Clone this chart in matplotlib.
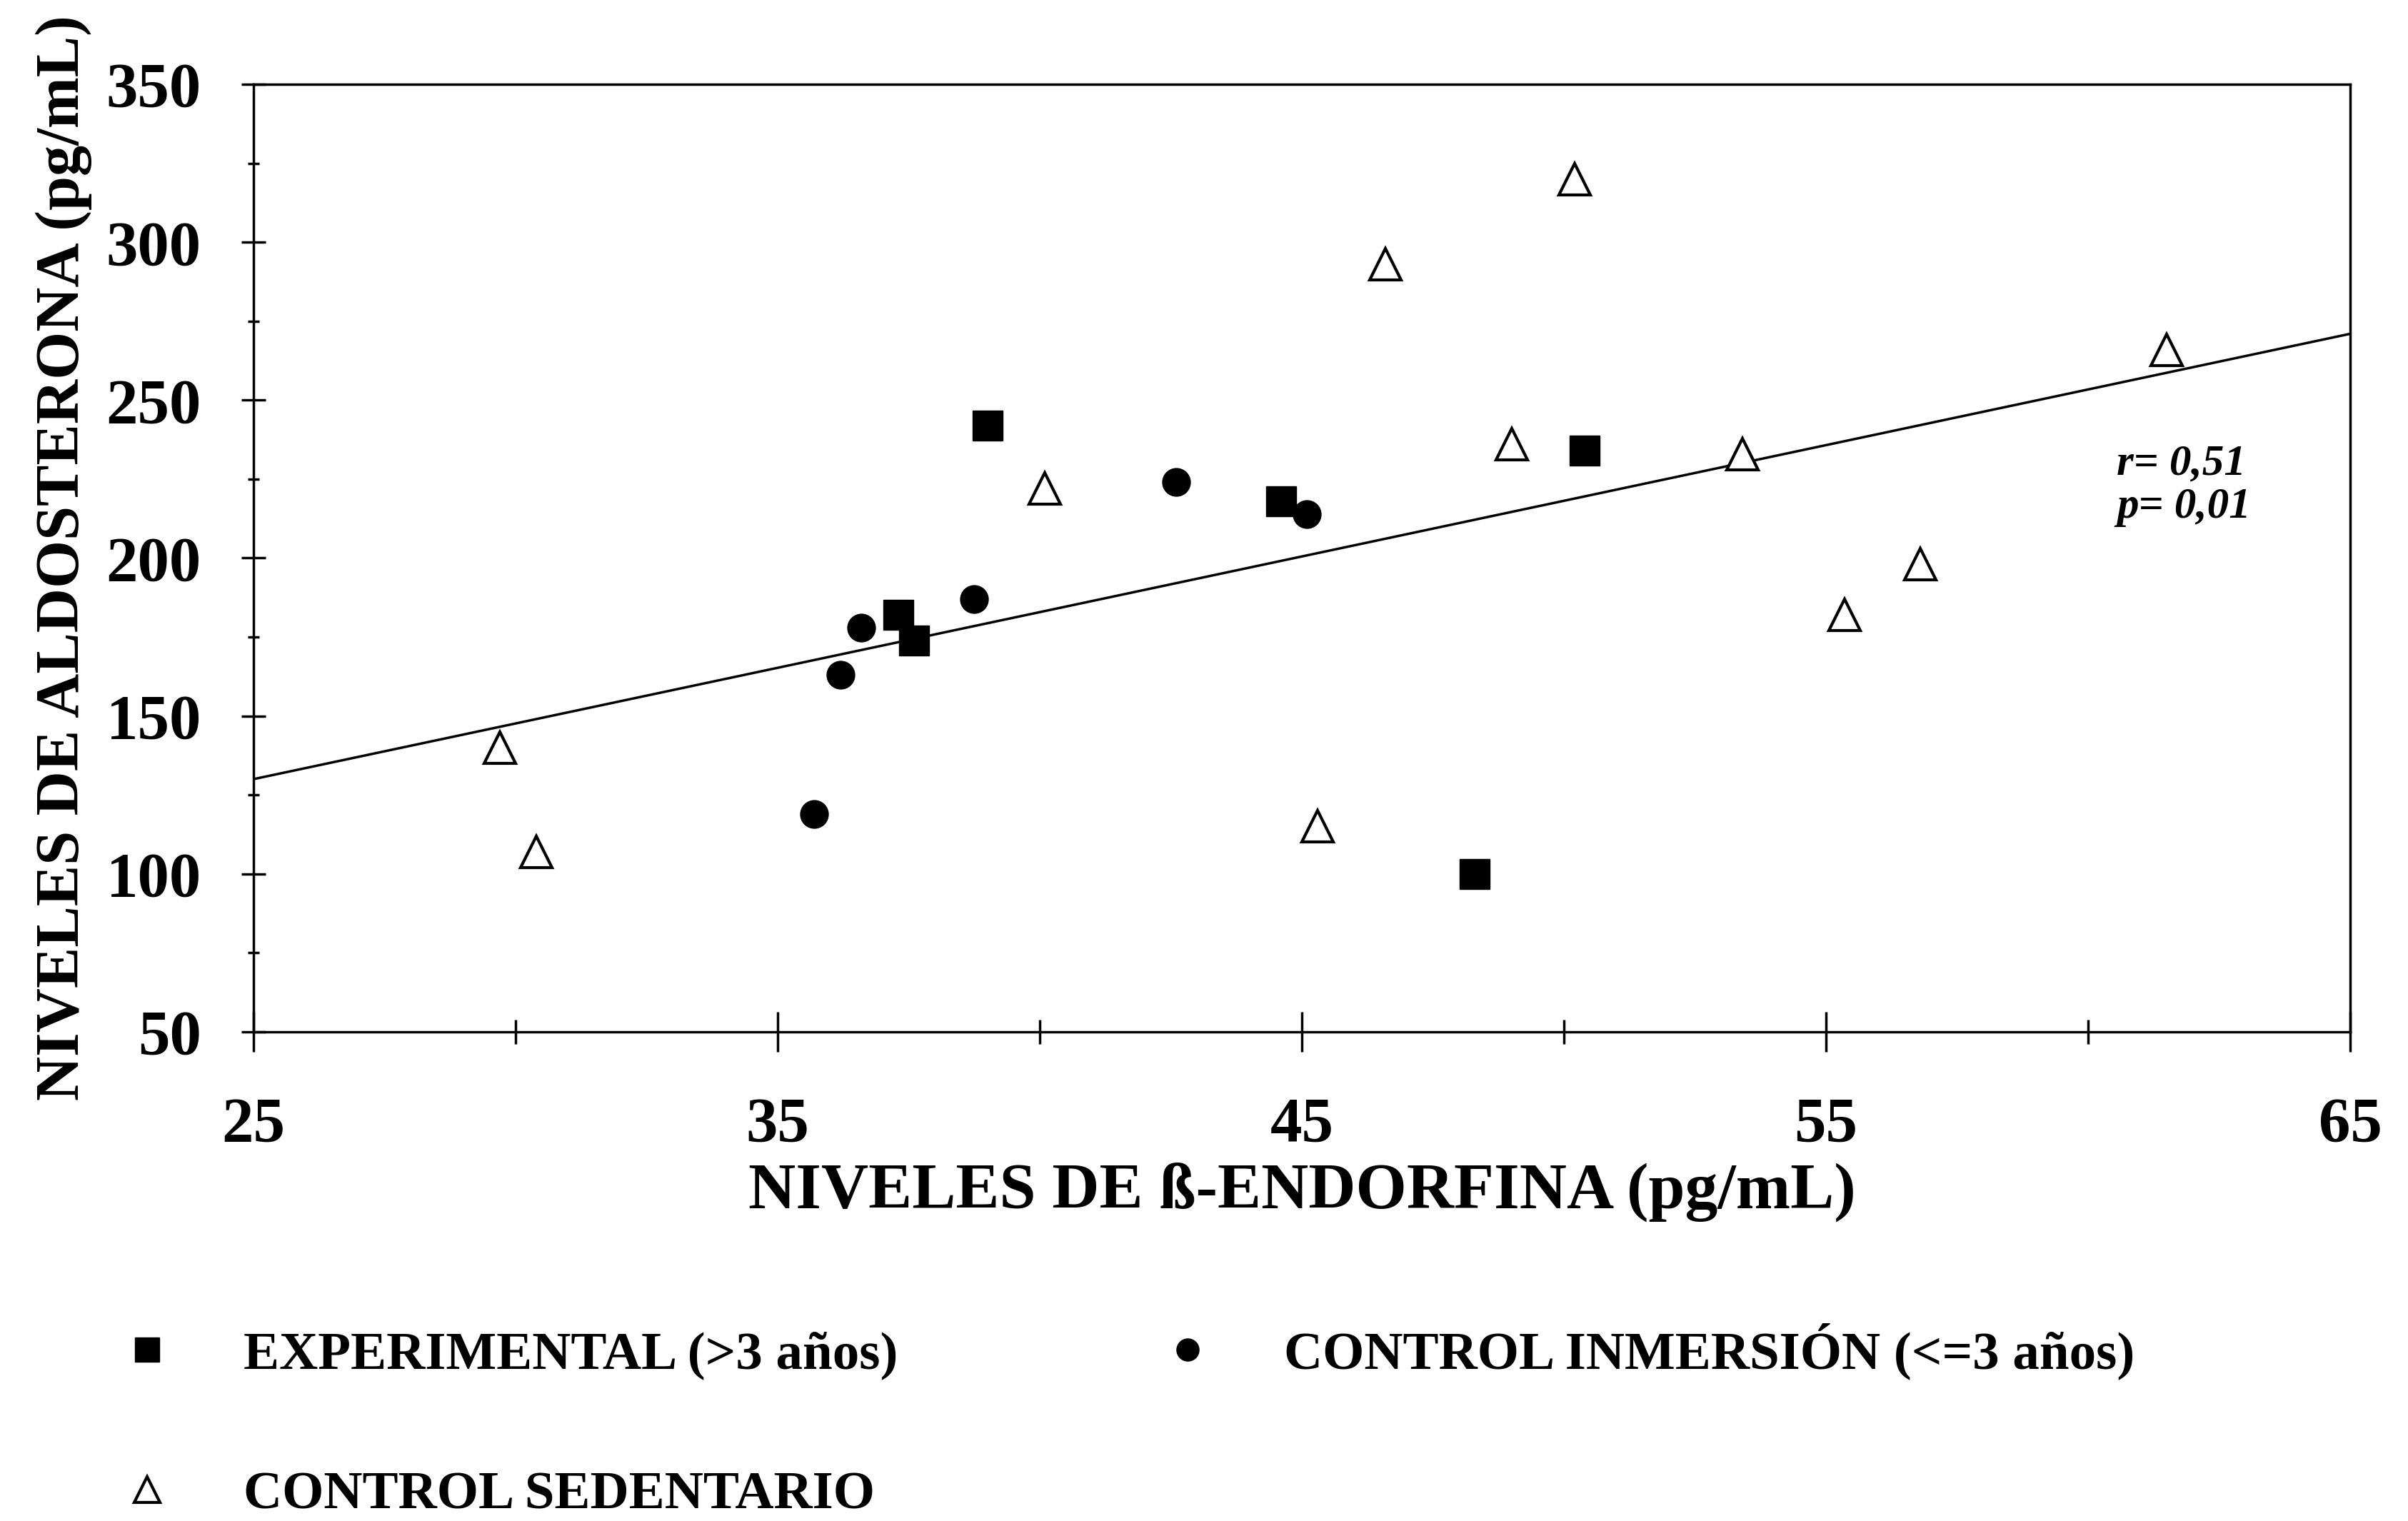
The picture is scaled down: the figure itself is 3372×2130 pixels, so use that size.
import numpy as np
import matplotlib
matplotlib.use("Agg")
import matplotlib.pyplot as plt
from matplotlib.ticker import MultipleLocator

plt.rcParams['font.family'] = ['Liberation Serif', 'DejaVu Serif']
plt.rcParams['font.weight'] = 'bold'

########  data  ########
exp_x = [39.0, 37.3, 37.6, 44.6, 50.4, 48.3]
exp_y = [242, 182, 174, 218, 234, 100]

inm_x = [35.7, 36.2, 36.6, 38.75, 42.6, 45.1]
inm_y = [119, 163, 178, 187, 224, 214]

sed_x = [29.7, 30.4, 40.1, 45.3, 46.6, 49.0, 50.2, 53.4, 55.35, 56.8, 61.5]
sed_y = [140, 107, 222, 115, 293, 236, 320, 233, 182, 198, 266]

# regression line end points
fit_x = [25, 65]
fit_y = [130, 271]

x_major = [25, 35, 45, 55, 65]
x_minor = [30, 40, 50, 60]

labels = ['EXPERIMENTAL (>3 años)', 'CONTROL INMERSIÓN (<=3 años)', 'CONTROL SEDENTARIO']

fig = plt.figure(figsize=(33.73, 21.30), dpi=100)
ax = fig.add_axes([0.1052, 0.3216, 0.8705, 0.623])

ax.plot(fit_x, fit_y, color='black', linewidth=2.5, zorder=1)
h_exp, = ax.plot(exp_x, exp_y, linestyle='none', marker='s', markersize=30,
                 color='black', label=labels[0], zorder=3)
h_inm, = ax.plot(inm_x, inm_y, linestyle='none', marker='o', markersize=28,
                 color='black', label=labels[1], zorder=3)
h_sed, = ax.plot(sed_x, sed_y, linestyle='none', marker='^', markersize=32,
                 markerfacecolor='white', markeredgecolor='black', markeredgewidth=3,
                 label=labels[2], zorder=3)

ax.text(60.55, 223, 'r= 0,51\np= 0,01', fontsize=44, style='italic', fontweight='bold',
        ha='left', va='center', linespacing=1.1)

ax.set_xlim(25, 65)
ax.set_ylim(50, 350)
ax.set_xticks(x_major)
ax.set_xticks(x_minor, minor=True)
ax.yaxis.set_major_locator(MultipleLocator(50))
ax.yaxis.set_minor_locator(MultipleLocator(25))

for s in ax.spines.values():
    s.set_linewidth(2.5)

ax.tick_params(axis='x', which='major', direction='inout', length=40, width=2.5,
               labelsize=64, pad=45)
ax.tick_params(axis='x', which='minor', direction='inout', length=25, width=2.5)
ax.tick_params(axis='y', which='major', direction='inout', length=25, width=2.5,
               labelsize=64, pad=40)
ax.tick_params(axis='y', which='minor', direction='inout', length=12, width=2.5)
for lab in ax.get_xticklabels() + ax.get_yticklabels():
    lab.set_fontweight('bold')

ax.set_xlabel('NIVELES DE ß-ENDORFINA (pg/mL)', fontsize=66, fontweight='bold', labelpad=8)
ax.set_ylabel('NIVELES DE ALDOSTERONA (pg/mL)', fontsize=62, fontweight='bold', labelpad=14)

fig.legend(handles=[h_exp, h_sed, h_inm], ncol=2, loc='upper left',
           bbox_to_anchor=(0.03, 0.162), frameon=False, fontsize=54,
           handletextpad=1.3, columnspacing=4.9, labelspacing=1.7,
           handlelength=1.0, markerscale=0.8)

fig.savefig('out.png', dpi=100)
